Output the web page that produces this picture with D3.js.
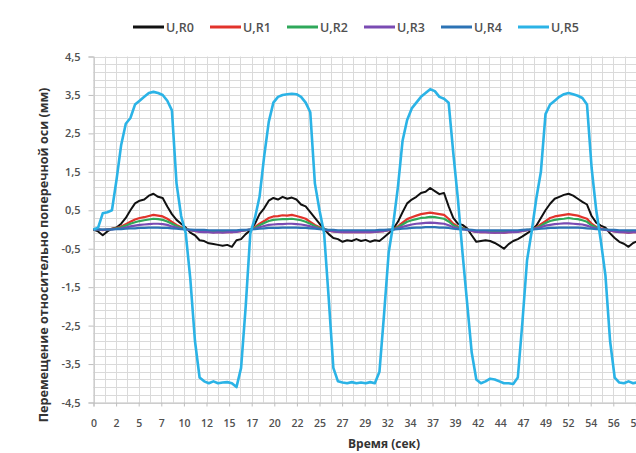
<!DOCTYPE html>
<html>
<head>
<meta charset="utf-8">
<script src="https://cdn.jsdelivr.net/npm/d3@7"></script>
<style>
  html, body { margin: 0; padding: 0; background: #fff; overflow: hidden; }
  svg { display: block; }
  text { font-family: "Open Sans", "DejaVu Sans", sans-serif; }
</style>
</head>
<body>
<svg id="chart"></svg>
<script>
let w = 636;
let h = 453;

// sample step of the series, seconds
let step = 0.5;

let seriesNames = ["U,R0", "U,R1", "U,R2", "U,R3", "U,R4", "U,R5"];
let seriesColors = ["#111111", "#e2332b", "#2fa85a", "#7a4bb3", "#2c73b5", "#2bb3e6"];

let xLabels = ["0", "2", "5", "7", "10", "12", "15", "17", "20", "22", "25", "27", "29",
  "32", "34", "37", "39", "42", "44", "47", "49", "52", "54", "56", "59"];
let xLabelStep = 2.45;
let yTicks = [4.5, 3.5, 2.5, 1.5, 0.5, -0.5, -1.5, -2.5, -3.5, -4.5];

let uR0 = [
  0.0, -0.05, -0.15, -0.05, 0.02, 0.05, 0.15, 0.3, 0.5, 0.68,
  0.75, 0.78, 0.88, 0.93, 0.85, 0.82, 0.6, 0.4, 0.25, 0.15,
  0.05, -0.08, -0.15, -0.28, -0.3, -0.36, -0.38, -0.4, -0.42, -0.4,
  -0.45, -0.28, -0.25, -0.12, -0.02, 0.15, 0.4, 0.55, 0.75, 0.82,
  0.78, 0.85, 0.8, 0.83, 0.78, 0.65, 0.6, 0.45, 0.3, 0.15,
  0.02, -0.12, -0.22, -0.25, -0.32, -0.28, -0.3, -0.25, -0.3, -0.27,
  -0.32, -0.28, -0.3, -0.2, -0.1, 0.02, 0.2, 0.45, 0.68, 0.78,
  0.85, 0.95, 0.98, 1.08, 1.0, 0.92, 0.95, 0.6, 0.3, 0.15,
  0.12, 0.03, -0.15, -0.32, -0.3, -0.28, -0.3, -0.35, -0.42, -0.5,
  -0.38, -0.3, -0.25, -0.18, -0.1, -0.02, 0.1, 0.3, 0.5, 0.67,
  0.8, 0.85, 0.9, 0.93, 0.88, 0.8, 0.72, 0.65, 0.35, 0.18,
  0.1, 0.05, -0.1, -0.22, -0.32, -0.37, -0.45, -0.35, -0.3, -0.32,
  -0.3
];
let uR1 = [
  0.0, 0.0, -0.02, 0.0, 0.02, 0.04, 0.08, 0.14, 0.2, 0.26,
  0.3, 0.32, 0.35, 0.38, 0.36, 0.34, 0.28, 0.2, 0.12, 0.06,
  0.02, -0.02, -0.04, -0.05, -0.06, -0.06, -0.07, -0.06, -0.07, -0.06,
  -0.07, -0.05, -0.04, -0.02, 0.0, 0.06, 0.15, 0.22, 0.3, 0.34,
  0.35, 0.37, 0.36, 0.38, 0.35, 0.32, 0.28, 0.2, 0.12, 0.06,
  0.01, -0.03, -0.05, -0.06, -0.07, -0.06, -0.07, -0.06, -0.07, -0.06,
  -0.07, -0.06, -0.05, -0.04, -0.02, 0.0, 0.08, 0.18, 0.27, 0.32,
  0.36, 0.4, 0.42, 0.44, 0.42, 0.4, 0.38, 0.28, 0.15, 0.08,
  0.04, 0.0, -0.04, -0.06, -0.07, -0.06, -0.07, -0.08, -0.07, -0.08,
  -0.07, -0.06, -0.05, -0.04, -0.02, 0.0, 0.05, 0.14, 0.22, 0.3,
  0.34, 0.36, 0.38, 0.4, 0.38, 0.36, 0.32, 0.28, 0.15, 0.07,
  0.03, 0.0, -0.03, -0.05, -0.06, -0.07, -0.08, -0.07, -0.07, -0.06,
  -0.07
];
let uR2 = [
  0.0, 0.0, -0.01, 0.0, 0.01, 0.03, 0.06, 0.1, 0.15, 0.19,
  0.22, 0.24, 0.26, 0.28, 0.27, 0.25, 0.21, 0.15, 0.09, 0.04,
  0.01, -0.02, -0.03, -0.04, -0.05, -0.05, -0.05, -0.05, -0.06, -0.05,
  -0.05, -0.04, -0.03, -0.02, 0.0, 0.04, 0.11, 0.17, 0.22, 0.25,
  0.26, 0.27, 0.27, 0.28, 0.26, 0.24, 0.2, 0.15, 0.09, 0.04,
  0.01, -0.02, -0.04, -0.05, -0.05, -0.05, -0.05, -0.05, -0.05, -0.05,
  -0.05, -0.05, -0.04, -0.03, -0.01, 0.0, 0.06, 0.13, 0.2, 0.24,
  0.27, 0.3, 0.31, 0.33, 0.32, 0.3, 0.28, 0.21, 0.11, 0.06,
  0.03, 0.0, -0.03, -0.05, -0.05, -0.05, -0.06, -0.06, -0.06, -0.06,
  -0.05, -0.05, -0.04, -0.03, -0.01, 0.0, 0.04, 0.1, 0.17, 0.22,
  0.25, 0.27, 0.28, 0.3, 0.28, 0.27, 0.24, 0.2, 0.11, 0.05,
  0.02, 0.0, -0.02, -0.04, -0.05, -0.05, -0.06, -0.05, -0.05, -0.05,
  -0.05
];
let uR3 = [
  0.0, 0.0, -0.01, 0.0, 0.0, 0.02, 0.03, 0.05, 0.08, 0.1,
  0.12, 0.13, 0.14, 0.15, 0.15, 0.14, 0.12, 0.08, 0.05, 0.02,
  0.0, -0.02, -0.04, -0.06, -0.07, -0.07, -0.08, -0.07, -0.08, -0.07,
  -0.07, -0.06, -0.04, -0.02, 0.0, 0.02, 0.06, 0.09, 0.12, 0.13,
  0.14, 0.14, 0.15, 0.15, 0.14, 0.13, 0.11, 0.08, 0.05, 0.02,
  0.0, -0.03, -0.05, -0.06, -0.07, -0.07, -0.07, -0.07, -0.07, -0.07,
  -0.07, -0.06, -0.05, -0.04, -0.02, 0.0, 0.03, 0.07, 0.1, 0.13,
  0.15, 0.16, 0.17, 0.18, 0.17, 0.16, 0.15, 0.11, 0.06, 0.03,
  0.01, -0.01, -0.04, -0.06, -0.07, -0.07, -0.08, -0.08, -0.08, -0.08,
  -0.07, -0.07, -0.06, -0.04, -0.02, 0.0, 0.03, 0.06, 0.1, 0.12,
  0.14, 0.15, 0.16, 0.16, 0.15, 0.14, 0.13, 0.1, 0.06, 0.03,
  0.01, -0.01, -0.03, -0.05, -0.07, -0.07, -0.08, -0.07, -0.07, -0.08,
  -0.07
];
let uR4 = [
  0.0, 0.0, 0.0, 0.0, 0.0, 0.01, 0.01, 0.02, 0.03, 0.03,
  0.04, 0.04, 0.05, 0.05, 0.05, 0.04, 0.04, 0.03, 0.02, 0.01,
  0.0, 0.0, -0.01, -0.01, -0.01, -0.02, -0.02, -0.02, -0.02, -0.02,
  -0.02, -0.02, -0.01, -0.01, 0.0, 0.01, 0.02, 0.03, 0.04, 0.04,
  0.04, 0.05, 0.05, 0.05, 0.05, 0.04, 0.04, 0.03, 0.02, 0.01,
  0.0, -0.01, -0.01, -0.02, -0.02, -0.02, -0.02, -0.02, -0.02, -0.02,
  -0.02, -0.02, -0.01, -0.01, 0.0, 0.0, 0.01, 0.02, 0.03, 0.04,
  0.05, 0.05, 0.06, 0.06, 0.06, 0.05, 0.05, 0.04, 0.02, 0.01,
  0.0, 0.0, -0.01, -0.02, -0.02, -0.02, -0.02, -0.02, -0.02, -0.02,
  -0.02, -0.02, -0.02, -0.01, 0.0, 0.0, 0.01, 0.02, 0.03, 0.04,
  0.04, 0.05, 0.05, 0.05, 0.05, 0.05, 0.04, 0.03, 0.02, 0.01,
  0.0, 0.0, -0.01, -0.01, -0.02, -0.02, -0.02, -0.02, -0.02, -0.02,
  -0.02
];
let uR5 = [
  0.0, 0.05, 0.42, 0.45, 0.5, 1.3, 2.2, 2.75, 2.9, 3.25,
  3.35, 3.45, 3.55, 3.58, 3.55, 3.5, 3.35, 3.1, 1.2, 0.35,
  -0.1, -1.3, -2.9, -3.85, -3.95, -4.0, -3.95, -4.0, -3.98, -3.97,
  -4.0, -4.1, -3.6, -2.0, -0.1, 0.3, 0.85, 1.9, 2.8, 3.3,
  3.45, 3.5, 3.52, 3.53, 3.52, 3.45, 3.3, 3.05, 1.2, 0.5,
  -0.1, -1.8, -3.6, -3.95, -3.98, -4.0, -3.97, -4.0, -3.98, -4.0,
  -3.97, -4.0, -3.7, -2.2, -0.6, 0.15, 1.1, 2.3, 2.85, 3.15,
  3.3, 3.45, 3.55, 3.65, 3.6, 3.45, 3.4, 3.3, 2.0, 0.8,
  -0.6, -1.9, -3.2, -3.9, -4.0, -3.95, -3.88, -3.9, -3.95, -4.0,
  -4.0, -4.02, -3.85, -2.4, -0.8, -0.05, 0.8, 1.5, 3.0, 3.25,
  3.35, 3.45, 3.52, 3.55, 3.52, 3.48, 3.42, 3.25, 1.6, 0.5,
  -0.3, -1.2, -2.9, -3.85, -3.98, -4.0, -3.95, -4.0, -3.97, -4.0,
  -3.98
];

let allSeries = [uR0, uR1, uR2, uR3, uR4, uR5];
let lineWidths = [2, 2.2, 2.2, 2.2, 2.2, 2.6];

let plotLeft = 93.5;
let plotTop = 56.5;
let plotBottom = 402.5;
let labelSpacing = 22.6;

let xScale = d3.scaleLinear()
  .domain([0, xLabelStep * (xLabels.length)])
  .range([plotLeft, plotLeft + labelSpacing * xLabels.length]);
let yScale = d3.scaleLinear().domain([-4.5, 4.5]).range([plotBottom, plotTop]);

let svg = d3.select("#chart").attr("width", w).attr("height", h);

// grid
let xMax = xScale.domain()[1];
let vGrid = d3.range(0, xMax + 0.001, xLabelStep / 2);
let hGrid = d3.range(-4.5, 4.51, 0.2);

svg.append("g").selectAll("line")
  .data(hGrid)
  .enter()
  .append("line")
  .attr("x1", plotLeft)
  .attr("x2", xScale(xMax))
  .attr("y1", (d) => Math.round(yScale(d)) + 0.5)
  .attr("y2", (d) => Math.round(yScale(d)) + 0.5)
  .attr("stroke", "#dadada")
  .attr("stroke-width", 1);

svg.append("g").selectAll("line")
  .data(vGrid)
  .enter()
  .append("line")
  .attr("x1", (d) => Math.round(xScale(d)) + 0.5)
  .attr("x2", (d) => Math.round(xScale(d)) + 0.5)
  .attr("y1", plotTop)
  .attr("y2", plotBottom)
  .attr("stroke", "#dadada")
  .attr("stroke-width", 1);

// axes
let yAxis = d3.axisLeft(yScale)
  .tickValues(yTicks)
  .tickSize(5)
  .tickFormat((d) => d3.format(".1f")(d).replace(".", ",").replace("−", "-"));
let gy = svg.append("g")
  .attr("transform", "translate(" + plotLeft + ",0)")
  .call(yAxis);
gy.select(".domain").attr("stroke", "#bfbfbf");
gy.selectAll(".tick line").attr("stroke", "#bfbfbf");
gy.selectAll(".tick text")
  .attr("x", -13)
  .style("font-size", "11px")
  .style("font-weight", "600")
  .style("fill", "#505050");

let xAxis = d3.axisBottom(xScale)
  .tickValues(xLabels.map((d, i) => i * xLabelStep))
  .tickSize(4)
  .tickFormat((d, i) => xLabels[i]);
let gx = svg.append("g")
  .attr("transform", "translate(0," + plotBottom + ")")
  .call(xAxis);
gx.select(".domain").attr("stroke", "#bfbfbf");
gx.selectAll(".tick line").attr("stroke", "#bfbfbf");
gx.selectAll(".tick text")
  .attr("y", 17)
  .style("font-size", "10.5px")
  .style("font-weight", "600")
  .style("fill", "#505050");

// series
let line = d3.line()
  .x((d, i) => xScale(i * step))
  .y((d) => yScale(d));

svg.append("g").selectAll("path")
  .data(allSeries)
  .enter()
  .append("path")
  .attr("d", (d) => line(d))
  .attr("fill", "none")
  .attr("stroke", (d, i) => seriesColors[i])
  .attr("stroke-width", (d, i) => lineWidths[i])
  .attr("stroke-linejoin", "round");

// titles
svg.append("text")
  .attr("transform", "translate(48,255) rotate(-90)")
  .attr("text-anchor", "middle")
  .style("font-size", "12.6px")
  .style("font-weight", "700")
  .style("fill", "#333")
  .text("Перемещение относительно поперечной оси (мм)");

svg.append("text")
  .attr("x", 384)
  .attr("y", 448)
  .attr("text-anchor", "middle")
  .style("font-size", "12px")
  .style("font-weight", "700")
  .style("fill", "#333")
  .text("Время (сек)");

// legend
let legend = svg.append("g").attr("transform", "translate(133,27)");
let items = legend.selectAll("g")
  .data(seriesNames)
  .enter()
  .append("g")
  .attr("transform", (d, i) => "translate(" + (i * 77) + ",0)");
items.append("line")
  .attr("x1", 0)
  .attr("x2", 31)
  .attr("stroke", (d, i) => seriesColors[i])
  .attr("stroke-width", 3);
items.append("text")
  .attr("x", 33)
  .attr("y", 4.5)
  .style("font-size", "12.5px")
  .style("font-weight", "600")
  .style("fill", "#505050")
  .text((d) => d);
</script>
</body>
</html>
